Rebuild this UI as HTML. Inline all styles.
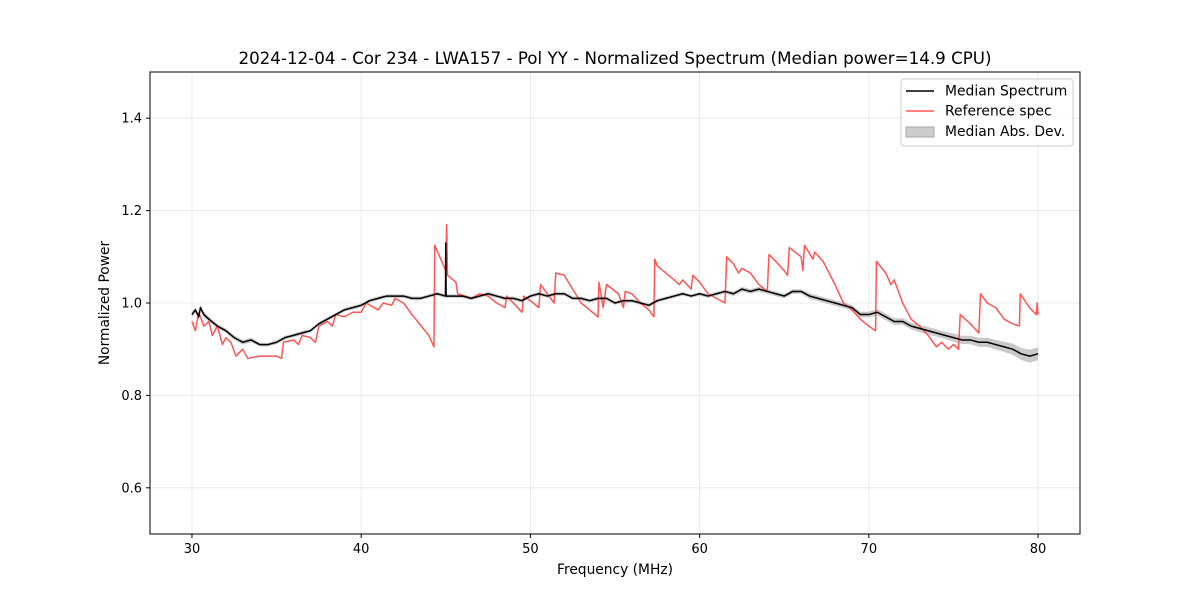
<!DOCTYPE html>
<html><head><meta charset="utf-8"><style>
body{margin:0;background:#fff;font-family:"DejaVu Sans",sans-serif}
</style></head><body>
<svg width="1200" height="600" xmlns="http://www.w3.org/2000/svg" font-family="DejaVu Sans, sans-serif">
<rect width="1200" height="600" fill="#fff"/>
<text x="615" y="64" text-anchor="middle" font-size="16.7">2024-12-04 - Cor 234 - LWA157 - Pol YY - Normalized Spectrum (Median power=14.9 CPU)</text>
<g id="grid"></g>
<g id="ticks" font-size="13"></g>
<g id="series"></g>
<rect x="150" y="72" width="930" height="462" fill="none" stroke="#000" stroke-width="1"/>
<text x="615" y="574" text-anchor="middle" font-size="13.8">Frequency (MHz)</text>
<text transform="translate(109,303) rotate(-90)" text-anchor="middle" font-size="13.8">Normalized Power</text>
<g>
<rect x="901" y="79" width="172" height="67" rx="3" fill="#fff" fill-opacity="0.8" stroke="#ccc"/>
<g><line x1="906" y1="91" x2="934" y2="91" stroke="#000" stroke-width="1.5"/><text x="945" y="95.5" font-size="13.9">Median Spectrum</text></g>
<g><line x1="906" y1="111" x2="934" y2="111" stroke="#ff5555" stroke-width="1.5"/><text x="945" y="115.5" font-size="13.9">Reference spec</text></g>
<g><rect x="906" y="127" width="28" height="10" fill="#ccc" stroke="#aaa"/><text x="945" y="136" font-size="13.9">Median Abs. Dev.</text></g>
</g>
</svg>
<script>
const xTicks=[30,40,50,60,70,80];
const yTicks=[0.6,0.8,1.0,1.2,1.4];
const medFreq=[30,30.2,30.4,30.5,30.7,31,31.5,32,32.5,33,33.5,34,34.5,35,35.5,36,36.5,37,37.5,38,38.5,39,39.5,40,40.5,41,41.5,42,42.5,43,43.5,44,44.5,44.98,45,45.02,45.5,46,46.5,47,47.5,48,48.5,49,49.5,50,50.5,51,51.5,52,52.5,53,53.5,54,54.5,55,55.5,56,56.5,57,57.5,58,58.5,59,59.5,60,60.5,61,61.5,62,62.5,63,63.5,64,64.5,65,65.5,66,66.5,67,67.5,68,68.5,69,69.5,70,70.5,71,71.5,72,72.5,73,73.5,74,74.5,75,75.5,76,76.5,77,77.5,78,78.5,79,79.5,80];
const medVal=[0.975,0.985,0.97,0.99,0.975,0.965,0.95,0.94,0.925,0.915,0.92,0.91,0.91,0.915,0.925,0.93,0.935,0.94,0.955,0.965,0.975,0.985,0.99,0.995,1.005,1.01,1.015,1.015,1.015,1.01,1.01,1.015,1.02,1.015,1.13,1.015,1.015,1.015,1.01,1.015,1.02,1.015,1.01,1.01,1.005,1.015,1.02,1.015,1.02,1.02,1.01,1.01,1.005,1.01,1.01,1.0,1.005,1.005,1.0,0.995,1.005,1.01,1.015,1.02,1.015,1.02,1.015,1.02,1.025,1.02,1.03,1.025,1.03,1.025,1.02,1.015,1.025,1.025,1.015,1.01,1.005,1.0,0.995,0.99,0.975,0.975,0.98,0.97,0.96,0.96,0.95,0.945,0.94,0.935,0.93,0.925,0.92,0.92,0.915,0.915,0.91,0.905,0.9,0.89,0.885,0.89];
const madVal=[0.006,0.006,0.006,0.006,0.006,0.006,0.005,0.005,0.005,0.005,0.005,0.004,0.004,0.004,0.004,0.004,0.004,0.004,0.004,0.004,0.004,0.004,0.004,0.004,0.004,0.004,0.004,0.004,0.004,0.004,0.004,0.004,0.004,0.004,0.004,0.004,0.004,0.004,0.004,0.004,0.004,0.004,0.004,0.004,0.004,0.004,0.004,0.004,0.004,0.004,0.004,0.004,0.004,0.004,0.004,0.004,0.004,0.004,0.004,0.004,0.004,0.004,0.004,0.004,0.004,0.004,0.004,0.004,0.004,0.005,0.005,0.005,0.005,0.005,0.005,0.005,0.005,0.005,0.006,0.006,0.006,0.006,0.006,0.006,0.006,0.006,0.007,0.007,0.007,0.007,0.007,0.008,0.008,0.008,0.008,0.009,0.009,0.009,0.01,0.01,0.01,0.011,0.012,0.013,0.014,0.014];
const refFreq=[30,30.2,30.4,30.7,31,31.2,31.5,31.8,32,32.3,32.6,33,33.3,34,35,35.3,35.4,36,36.3,36.5,37,37.3,37.5,38,38.3,38.5,39,39.5,40,40.3,41,41.3,41.8,42,42.5,43,44,44.3,44.35,45,45.05,45.1,45.6,45.7,46.5,47,47.5,48,48.5,48.6,49,49.5,49.6,50,50.5,50.6,51,51.4,51.5,52,52.5,53,53.5,54,54.05,54.3,54.5,55.2,55.5,55.6,56,56.5,57,57.3,57.35,57.5,58,58.5,58.8,59,59.5,59.6,60,60.5,61,61.5,61.6,62,62.3,62.5,63,63.5,64,64.1,64.5,65,65.2,65.3,66,66.1,66.2,66.7,66.8,67.3,68,68.5,69,69.5,70,70.4,70.45,71,71.3,71.5,72,72.5,73,73.5,74,74.3,74.7,75,75.3,75.4,76,76.5,76.6,77,77.5,78,78.5,78.9,78.95,79.5,79.9,79.95,80];
const refVal=[0.96,0.94,0.98,0.95,0.96,0.93,0.95,0.91,0.925,0.915,0.885,0.9,0.88,0.885,0.885,0.88,0.915,0.92,0.91,0.93,0.925,0.915,0.95,0.96,0.95,0.975,0.97,0.98,0.98,1.0,0.985,1.0,0.995,1.01,1.0,0.975,0.93,0.905,1.125,1.07,1.17,1.06,1.045,1.02,1.01,1.02,1.015,1.0,0.99,1.015,1.0,0.98,1.015,1.005,0.99,1.04,1.02,1.0,1.065,1.06,1.03,1.0,0.985,0.97,1.045,0.99,1.04,1.02,0.99,1.025,1.02,1.0,0.985,0.97,1.095,1.08,1.065,1.05,1.04,1.05,1.03,1.06,1.045,1.02,1.01,1.0,1.1,1.085,1.065,1.075,1.065,1.04,1.025,1.105,1.09,1.07,1.06,1.12,1.1,1.07,1.125,1.095,1.11,1.09,1.04,1.0,0.985,0.965,0.95,0.94,1.09,1.065,1.04,1.05,1.0,0.965,0.95,0.93,0.905,0.915,0.9,0.91,0.9,0.975,0.955,0.935,1.02,1.0,0.99,0.965,0.955,0.95,1.02,0.99,0.975,1.0,0.975];

const X0=150,X1=1080,XMIN=27.52,XMAX=82.48,Y0=534,Y1=72,YMIN=0.5,YMAX=1.5;
const sx=v=>X0+(v-XMIN)/(XMAX-XMIN)*(X1-X0);
const sy=v=>Y0-(v-YMIN)/(YMAX-YMIN)*(Y0-Y1);
const NS="http://www.w3.org/2000/svg";
function mk(tag,attrs,parent){const e=document.createElementNS(NS,tag);for(const k in attrs)e.setAttribute(k,attrs[k]);document.getElementById(parent).appendChild(e);return e;}
xTicks.forEach(t=>{
  const g=mk('line',{x1:sx(t),x2:sx(t),y1:Y1,y2:Y0,stroke:'#e6e6e6','stroke-width':0.8},'grid');
  
  
  const tk=mk('line',{x1:sx(t),x2:sx(t),y1:Y0,y2:Y0+4,stroke:'#000'},'ticks');
  
  
  const tx=mk('text',{x:sx(t),y:Y0+19,'text-anchor':'middle'},'ticks');
  
  
  tx.textContent=t;
});
yTicks.forEach(t=>{
  const g=mk('line',{x1:X0,x2:X1,y1:sy(t),y2:sy(t),stroke:'#e6e6e6','stroke-width':0.8},'grid');
  
  
  const tk=mk('line',{x1:X0-4,x2:X0,y1:sy(t),y2:sy(t),stroke:'#000'},'ticks');
  
  
  const tx=mk('text',{x:X0-8,y:sy(t)+4.5,'text-anchor':'end'},'ticks');
  
  
  tx.textContent=t.toFixed(1);
});
let up=medFreq.map((f,i)=>sx(f)+','+sy(medVal[i]+madVal[i]));
let dn=medFreq.map((f,i)=>sx(f)+','+sy(medVal[i]-madVal[i])).reverse();
const band=mk('polygon',{points:up.concat(dn).join(' '),fill:'#bbb','fill-opacity':0.8},'series');


const ref=mk('polyline',{points:refFreq.map((f,i)=>sx(f)+','+sy(refVal[i])).join(' '),fill:'none',stroke:'#ff5555','stroke-width':1.5,'stroke-linejoin':'round'},'series');


const med=mk('polyline',{points:medFreq.map((f,i)=>sx(f)+','+sy(medVal[i])).join(' '),fill:'none',stroke:'#000','stroke-width':1.5,'stroke-linejoin':'round'},'series');


</script>
</body></html>
